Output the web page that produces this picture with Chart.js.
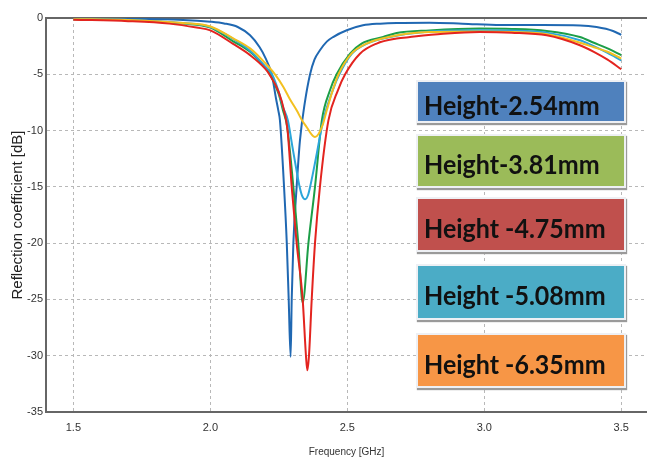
<!DOCTYPE html>
<html>
<head>
<meta charset="utf-8">
<script src="https://cdn.jsdelivr.net/npm/chart.js@4.4.0/dist/chart.umd.min.js"></script>
<style>
    body { margin: 0; background: #fff; }
    #wrap { position: relative; width: 647px; height: 464px; }
    .key {
        position: absolute; left: 416px; width: 210px; box-sizing: border-box;
        border: 2px solid #eef0f4; box-shadow: 1px 2px 1px #9a9a9a;
        font-family: Lato, 'Open Sans', sans-serif; font-size: 25px; font-weight: 700; color: #111;
        display: flex; align-items: center; padding-left: 6px; padding-top: 4px;
        white-space: nowrap;
    }
    .key span { display: inline-block; transform: scaleY(1.1); }
</style>
</head>
<body>
<div id="wrap">
    <canvas id="s11Chart"></canvas>
</div>
<script>
// --- Data ---
const xTicks = [1.5, 2.0, 2.5, 3.0, 3.5];
const seriesNames = ['Height-2.54mm', 'Height-3.81mm', 'Height -4.75mm', 'Height -5.08mm', 'Height -6.35mm'];

// 2.54 mm (dark blue trace)
const freq254 = [1.5, 1.7, 1.9, 2.0, 2.05, 2.1, 2.145, 2.18, 2.2, 2.224, 2.24, 2.248, 2.254, 2.269, 2.279, 2.286, 2.293, 2.297, 2.303, 2.315, 2.327, 2.345, 2.364, 2.38, 2.4, 2.425, 2.448, 2.498, 2.557, 2.62, 2.68, 2.8, 2.92, 3.06, 3.2, 3.35, 3.41, 3.47, 3.5];
const s11_254 = [-0.05, -0.07, -0.17, -0.33, -0.48, -0.8, -1.54, -2.6, -3.5, -5.0, -7.2, -8.2, -9.1, -15, -20, -25, -30.1, -25, -20, -15, -10.9, -7.5, -5.0, -3.7, -2.87, -2.1, -1.69, -1.09, -0.65, -0.5, -0.44, -0.42, -0.5, -0.62, -0.63, -0.66, -0.8, -1.15, -1.5];

// 3.81 mm (green trace)
const freq381 = [1.5, 1.7, 1.9, 2.0, 2.083, 2.145, 2.2, 2.218, 2.25, 2.265, 2.28, 2.303, 2.321, 2.337, 2.358, 2.382, 2.407, 2.437, 2.461, 2.51, 2.552, 2.631, 2.68, 2.8, 2.983, 3.1, 3.228, 3.349, 3.4, 3.45, 3.5];
const s11_381 = [-0.12, -0.2, -0.5, -0.85, -2.07, -3.0, -4.4, -5.0, -6.8, -8.2, -9.6, -15, -20, -25.3, -20, -15, -9.1, -6.4, -5.0, -3.17, -2.27, -1.69, -1.33, -1.1, -0.94, -0.97, -1.15, -1.69, -2.2, -2.7, -3.3];

// 4.75 mm (red trace)
const freq475 = [1.5, 1.7, 1.85, 1.95, 2.0, 2.083, 2.145, 2.2, 2.215, 2.25, 2.27, 2.282, 2.297, 2.315, 2.337, 2.349, 2.354, 2.36, 2.37, 2.382, 2.4, 2.431, 2.466, 2.492, 2.546, 2.607, 2.68, 2.729, 2.85, 2.983, 3.1, 3.228, 3.349, 3.4, 3.45, 3.5];
const s11_475 = [-0.15, -0.28, -0.5, -0.85, -1.1, -2.3, -3.3, -4.5, -5.0, -6.6, -8.3, -10, -15, -20, -25, -30, -31.3, -30, -25, -20, -15, -9.1, -6.4, -5.0, -3.17, -2.27, -1.83, -1.69, -1.4, -1.24, -1.3, -1.54, -2.42, -3.0, -3.7, -4.55];

// 5.08 mm (light blue trace)
const freq508 = [1.5, 1.7, 1.9, 2.0, 2.083, 2.145, 2.2, 2.225, 2.25, 2.265, 2.283, 2.3, 2.315, 2.325, 2.335, 2.346, 2.357, 2.366, 2.385, 2.412, 2.447, 2.471, 2.517, 2.572, 2.656, 2.8, 2.983, 3.1, 3.228, 3.349, 3.4, 3.45, 3.5];
const s11_508 = [-0.1, -0.18, -0.45, -0.8, -1.85, -2.9, -4.3, -5.0, -6.6, -7.9, -9.1, -11.5, -13.6, -14.9, -15.8, -16.1, -15.7, -14.8, -12.5, -9.1, -6.4, -5.0, -3.17, -2.27, -1.69, -1.2, -1.09, -1.12, -1.3, -1.98, -2.5, -3.1, -3.76];

// 6.35 mm (yellow trace)
const freq635 = [1.5, 1.7, 1.9, 2.0, 2.083, 2.145, 2.2, 2.236, 2.266, 2.29, 2.315, 2.335, 2.352, 2.368, 2.382, 2.395, 2.41, 2.425, 2.447, 2.468, 2.515, 2.57, 2.65, 2.8, 2.983, 3.1, 3.228, 3.349, 3.4, 3.45, 3.5];
const s11_635 = [-0.1, -0.18, -0.45, -0.75, -1.8, -2.7, -4.0, -5.0, -6.1, -7.2, -8.2, -9.1, -9.7, -10.3, -10.57, -10.3, -9.5, -8.2, -6.4, -5.0, -3.17, -2.27, -1.69, -1.25, -1.2, -1.25, -1.45, -2.2, -2.6, -3.0, -3.6];

// --- Styles ---
const lineColors = ['#2068b2', '#1c9e47', '#e3241f', '#2ba6da', '#f3c020'];
const keyColors = ['#4f81bd', '#9bbb59', '#c0504d', '#4bacc6', '#f79646'];
const keyTops = [80, 134, 197, 264, 333];
const keyHeights = [43, 54, 55, 56, 55];

const tickFont = { family: "'Liberation Sans Narrow', 'Liberation Sans', Arial, sans-serif", size: 11 };

function toPoints(xs, ys) {
    return xs.map((x, i) => ({ x: x, y: ys[i] }));
}

const traces = [
    toPoints(freq254, s11_254),
    toPoints(freq381, s11_381),
    toPoints(freq475, s11_475),
    toPoints(freq508, s11_508),
    toPoints(freq635, s11_635)
];

// top frame line at 0 dB (solid, like the axes)
const topFrame = {
    id: 'topFrame',
    beforeDatasetsDraw(chart) {
        const a = chart.chartArea;
        const ctx = chart.ctx;
        ctx.save();
        ctx.strokeStyle = '#666';
        ctx.lineWidth = 2;
        ctx.beginPath();
        ctx.moveTo(a.left, a.top);
        ctx.lineTo(a.right, a.top);
        ctx.stroke();
        ctx.restore();
    }
};

new Chart(document.getElementById('s11Chart'), {
    type: 'scatter',
    data: {
        datasets: traces.map((pts, i) => ({
            label: seriesNames[i],
            data: pts,
            showLine: true,
            borderColor: lineColors[i],
            borderWidth: 2,
            pointRadius: 0,
            cubicInterpolationMode: 'monotone',
            order: [4, 3, 0, 2, 1][i]
        }))
    },
    options: {
        responsive: true,
        maintainAspectRatio: false,
        animation: false,
        layout: { padding: { top: 18, right: 0, left: 0, bottom: 0 } },
        plugins: { legend: { display: false }, tooltip: { enabled: false } },
        scales: {
            x: {
                type: 'linear',
                min: 1.4,
                max: 3.594,
                afterBuildTicks: (scale) => { scale.ticks = xTicks.map(v => ({ value: v })); },
                afterFit: (scale) => { scale.height = 52; },
                grid: { color: '#b8b8b8', drawTicks: false },
                border: { color: '#666', width: 2, dash: [3, 3] },
                ticks: { font: tickFont, color: '#333', padding: 9, maxRotation: 0, callback: v => v.toFixed(1) },
                title: { display: true, text: 'Frequency [GHz]', color: '#333', font: { family: "'Liberation Sans', Arial, sans-serif", size: 10 }, padding: { top: 0, bottom: 6 } }
            },
            y: {
                min: -35,
                max: 0,
                afterFit: (scale) => { scale.width = 46; },
                grid: { color: '#b8b8b8', drawTicks: false },
                border: { color: '#666', width: 2, dash: [3, 3] },
                ticks: { font: tickFont, color: '#333', padding: 3, stepSize: 5, callback: v => String(v) },
                title: { display: true, text: 'Reflection coefficient [dB]', color: '#222', font: { family: "'Liberation Sans', Arial, sans-serif", size: 15 }, padding: { top: 9, bottom: 0 } }
            }
        }
    },
    plugins: [topFrame]
});

// --- Legend boxes ---
const wrap = document.getElementById('wrap');
seriesNames.forEach((name, i) => {
    const box = document.createElement('div');
    box.className = 'key';
    box.style.top = keyTops[i] + 'px';
    box.style.height = keyHeights[i] + 'px';
    box.style.background = keyColors[i];
    const label = document.createElement('span');
    label.textContent = name;
    box.appendChild(label);
    wrap.appendChild(box);
});
</script>
</body>
</html>
